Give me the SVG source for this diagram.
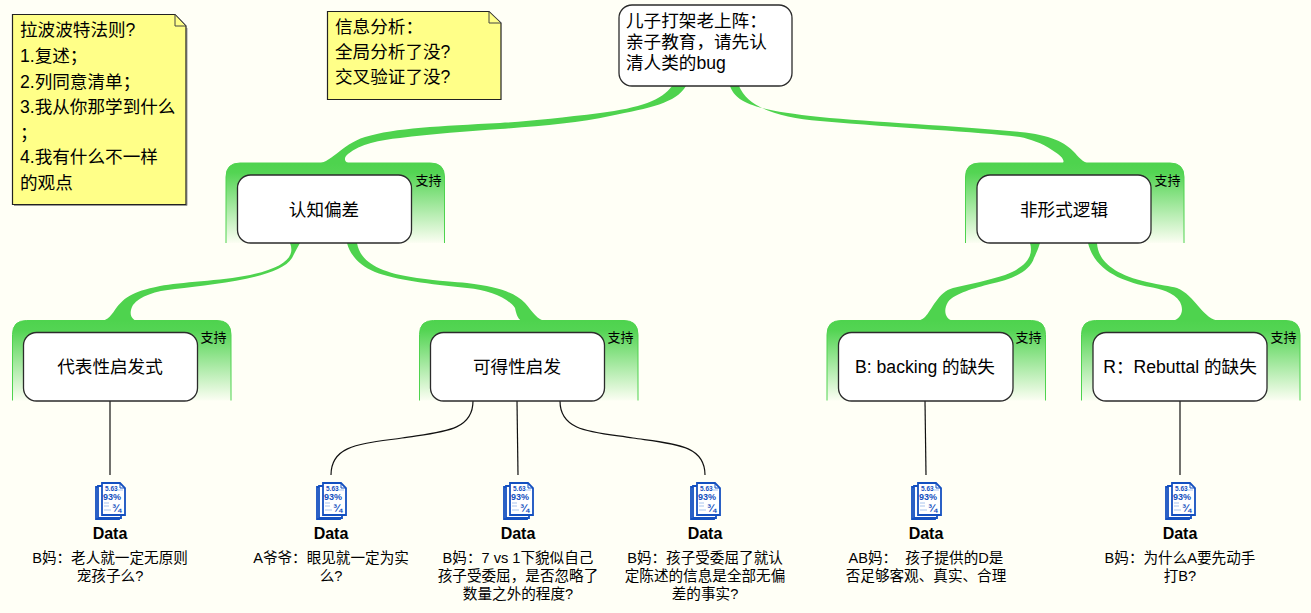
<svg xmlns="http://www.w3.org/2000/svg" width="1311" height="613" viewBox="0 0 1311 613">
<style>
text{font-family:"Liberation Sans","Noto Sans CJK SC",sans-serif;fill:#000}
.t{font-size:17.6px}
.m{text-anchor:middle}
.s{font-size:13px}
.d{font-size:16px;font-weight:bold;text-anchor:middle}
.c{font-size:14.6px;text-anchor:middle}
.node{fill:#fff;stroke:#2b2b2b;stroke-width:1.3}
.note{fill:#ffff88;stroke:#222;stroke-width:1.2}
.fold{fill:#ffff88;stroke:#444;stroke-width:1}
.br{fill:#4ed34e}
.ln{fill:none;stroke:#111;stroke-width:1.2}
.frame{fill:url(#g);stroke:#4ed34e;stroke-width:1}
.pg{fill:#fff;stroke:#1450c0;stroke-width:1.8}
.ic{font-weight:bold;fill:#1450c0;font-family:"Liberation Sans",sans-serif}
</style>
<defs>
<linearGradient id="g" x1="0" y1="0" x2="0" y2="1"><stop offset="0" stop-color="#4ed34e"/><stop offset="0.12" stop-color="#4ed34e" stop-opacity="0.97"/><stop offset="1" stop-color="#4ed34e" stop-opacity="0.02"/></linearGradient>
<path id="fr" class="frame" d="M0,80 V14 Q0,0 14,0 H204.500 Q218.500,0 218.500,14 V80"/>
<g id="doc">
<path class="pg" d="M-10,4 H9 L13,8 V36 H-10 Z" transform="translate(-4,1)"/>
<path class="pg" d="M-10,4 H9 L13,8 V36 H-10 Z" transform="translate(-2,0)"/>
<path class="pg" d="M-8,1 H10 L15,6 V33 H-8 Z"/>
<path d="M10,1 V6 H15" fill="none" stroke="#1450c0" stroke-width="1"/>
<text class="ic" x="-5" y="8.500" style="font-size:6.500px">5.63</text>
<text class="ic" x="-7" y="18" style="font-size:9px">93%</text>
<text class="ic" x="2" y="30" style="font-size:11px">¾</text>
<path d="M8,8 H13 M-6,21 H-1 M-6,24 H-1 M-6,28 H1" stroke="#a9c4ee" stroke-width="1"/>
</g>
</defs>
<rect width="1311" height="613" fill="#fffff6"/>

<g id="connectors">
<path class="br" d="M672,86 C662,100 640,108 600,113 C560,118 530,121 500,123 C440,126 395,128 365,137 C340,145 332,164 314,164 H352 C344,163 343,158 348,154 C360,144 380,140 400,138 C430,134 470,131 500,129 C540,126 580,123 610,116 C650,108 676,103 686,86 Z"/>
<path class="br" d="M730,86 C736,103 755,110 820,117 C870,122 960,126 1020,132 C1050,135 1065,142 1075,153 C1080,159 1085,164 1092,164 H1062 C1066,161 1062,156 1052,150 C1042,143 1030,139 1020,137 C980,132 900,128 820,121 C780,118 748,108 739,86 Z"/>
<path class="br" d="M290,243 C296,258 282,268 250,275 C220,281 180,282 160,286 C130,292 125,298 117,307 C112,314 108,321 100,321 H137 C130,319 129,312 133,305 C140,296 155,291 175,289 C215,284 280,278 292,258 Q296,250 300,243 Z"/>
<path class="br" d="M357,243 C360,260 375,272 417,278 C440,281 455,282 467,283 C500,287 515,293 525,303 C532,311 538,321 546,321 H522 C517,319 516,312 515,308 C508,298 490,290 467,288 C430,284 395,280 375,272 C360,266 350,255 347,243 Z"/>
<path class="br" d="M1030,243 C1034,256 1026,267 1005,275 C990,280 970,284 953,288 C938,292 932,310 925,317 Q921,321 914,321 H953 C945,319 943,310 948,302 C955,293 975,288 990,284 C1010,280 1030,272 1034,258 Q1038,250 1040,243 Z"/>
<path class="br" d="M1097,243 C1098,260 1112,274 1147,282 C1160,285 1170,286 1177,288 C1195,295 1203,320 1220,321 H1173 C1182,318 1184,310 1180,302 C1174,292 1160,289 1150,287 C1125,282 1095,272 1088,243 Z"/>
<path class="ln" d="M110,401 V475"/>
<path class="ln" d="M473,401 C473,432 440,432 402,438 C360,444 331,445 331,475"/>
<path class="ln" d="M517,401 L518,475"/>
<path class="ln" d="M560,401 C560,432 593,432 633,438 C675,444 705,445 705,475"/>
<path class="ln" d="M925,401 L926,475"/>
<path class="ln" d="M1180,401 V475"/>
</g>

<g id="note1">
<path d="M187,28 V205.500 H14" stroke="#999" stroke-width="1" fill="none"/>
<path class="note" d="M12.500,14.500 H175 L186,26 V204.500 H12.500 Z"/>
<path class="fold" d="M175,14.500 V26 H186 Z"/>
<text class="t" x="20" y="36">拉波波特法则?</text>
<text class="t" x="20" y="62">1.复述；</text>
<text class="t" x="20" y="88">2.列同意清单；</text>
<text class="t" x="20" y="113">3.我从你那学到什么</text>
<text class="t" x="20" y="139">；</text>
<text class="t" x="20" y="163">4.我有什么不一样</text>
<text class="t" x="20" y="189">的观点</text>
</g>
<g id="note2">
<path class="note" d="M327.500,11.500 H489 L501,23 V99.500 H327.500 Z"/>
<path class="fold" d="M489,11.500 V23 H501 Z"/>
<text class="t" x="335" y="33">信息分析：</text>
<text class="t" x="335" y="58">全局分析了没?</text>
<text class="t" x="335" y="83">交叉验证了没?</text>
</g>

<g id="root">
<rect class="node" x="619" y="5" width="173" height="81" rx="13"/>
<text class="t" x="626" y="27">儿子打架老上阵：</text>
<text class="t" x="626" y="48">亲子教育，请先认</text>
<text class="t" x="626" y="69">清人类的bug</text>
</g>

<g id="n1">
<use href="#fr" x="226" y="163"/>
<rect class="node" x="237.500" y="175" width="174" height="68" rx="13"/>
<text class="t m" x="324" y="216">认知偏差</text>
<text class="s" x="415.500" y="185">支持</text>
</g>
<g id="n2">
<use href="#fr" x="965.500" y="163"/>
<rect class="node" x="977" y="175" width="174" height="68" rx="13"/>
<text class="t m" x="1064" y="216">非形式逻辑</text>
<text class="s" x="1154.500" y="185">支持</text>
</g>
<g id="n3">
<use href="#fr" x="12.500" y="320.500"/>
<rect class="node" x="23.500" y="332.500" width="174" height="68.500" rx="13"/>
<text class="t m" x="110" y="373">代表性启发式</text>
<text class="s" x="200.500" y="342">支持</text>
</g>
<g id="n4">
<use href="#fr" x="419.500" y="320.500"/>
<rect class="node" x="430.500" y="332.500" width="174" height="68.500" rx="13"/>
<text class="t m" x="517" y="373">可得性启发</text>
<text class="s" x="607.500" y="342">支持</text>
</g>
<g id="n5">
<use href="#fr" x="827" y="320.500"/>
<rect class="node" x="838.500" y="332.500" width="174.500" height="68.500" rx="13"/>
<text class="t m" x="925" y="373">B: backing 的缺失</text>
<text class="s" x="1015.500" y="342">支持</text>
</g>
<g id="n6">
<use href="#fr" x="1081.500" y="320.500"/>
<rect class="node" x="1093" y="332.500" width="174" height="68.500" rx="13"/>
<text class="t m" x="1180" y="373">R：Rebuttal 的缺失</text>
<text class="s" x="1270.500" y="342">支持</text>
</g>

<g id="d1"><use href="#doc" x="110" y="482"/><text class="d" x="110" y="538.500">Data</text>
<text class="c" x="110" y="562.500">B妈：老人就一定无原则</text><text class="c" x="110" y="580.500">宠孩子么?</text></g>
<g id="d2"><use href="#doc" x="331" y="482"/><text class="d" x="331" y="538.500">Data</text>
<text class="c" x="331" y="562.500">A爷爷：眼见就一定为实</text><text class="c" x="331" y="580.500">么?</text></g>
<g id="d3"><use href="#doc" x="518" y="482"/><text class="d" x="518" y="538.500">Data</text>
<text class="c" x="518" y="562.500">B妈：7 vs 1下貌似自己</text><text class="c" x="518" y="580.500">孩子受委屈，是否忽略了</text><text class="c" x="518" y="598.500">数量之外的程度?</text></g>
<g id="d4"><use href="#doc" x="705" y="482"/><text class="d" x="705" y="538.500">Data</text>
<text class="c" x="705" y="562.500">B妈：孩子受委屈了就认</text><text class="c" x="705" y="580.500">定陈述的信息是全部无偏</text><text class="c" x="705" y="598.500">差的事实?</text></g>
<g id="d5"><use href="#doc" x="926" y="482"/><text class="d" x="926" y="538.500">Data</text>
<text class="c" x="926" y="562.500" xml:space="preserve">AB妈：  孩子提供的D是</text><text class="c" x="926" y="580.500">否足够客观、真实、合理</text></g>
<g id="d6"><use href="#doc" x="1180" y="482"/><text class="d" x="1180" y="538.500">Data</text>
<text class="c" x="1180" y="562.500">B妈：为什么A要先动手</text><text class="c" x="1180" y="580.500">打B?</text></g>
</svg>
